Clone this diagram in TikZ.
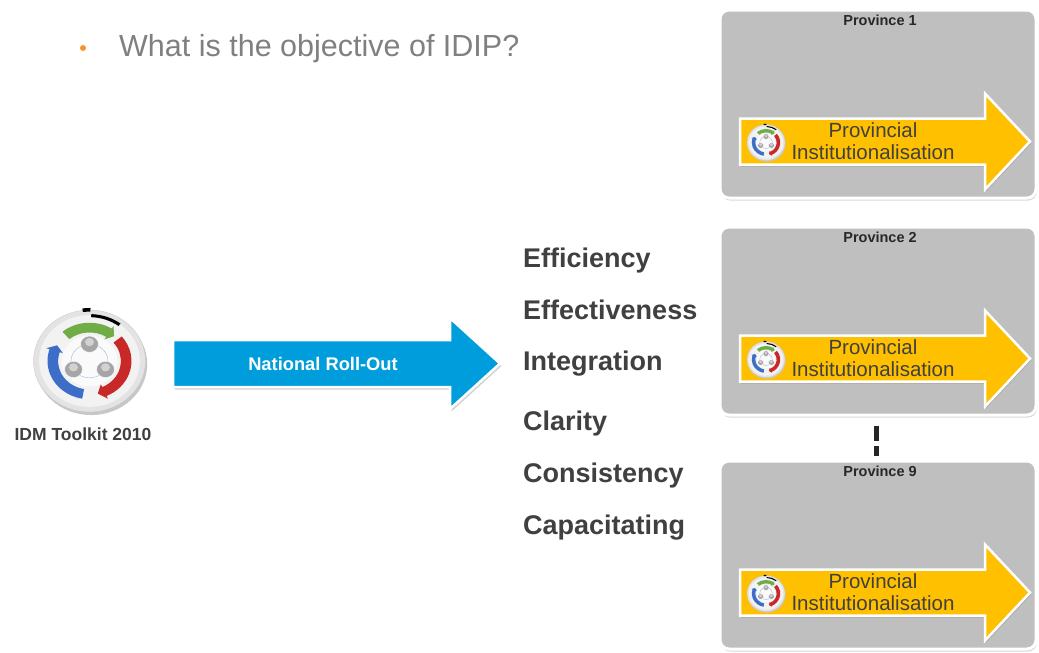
\documentclass[tikz,border=0pt]{standalone}
\usepackage{fontspec}
\setmainfont{Liberation Sans}
\usetikzlibrary{shadows}
\definecolor{boxgray}{RGB}{191,191,191}
\definecolor{ayellow}{RGB}{255,192,0}
\definecolor{ablue}{RGB}{0,157,220}
\definecolor{wordgray}{RGB}{64,64,64}
\definecolor{titlegray}{RGB}{128,128,128}
\definecolor{bulletorange}{RGB}{247,150,40}
\definecolor{provtxt}{RGB}{40,40,40}
\definecolor{igreen}{RGB}{112,173,71}
\definecolor{ired}{RGB}{200,40,40}
\definecolor{iblue}{RGB}{60,110,200}
\newcommand\idmarc[4]{%
  \fill[#1] (#2:0.75) arc[start angle=#2, end angle=#3, radius=0.75]
    -- (#3:0.81) -- (#4:0.655) -- (#3:0.50) -- (#3:0.56)
    arc[start angle=#3, end angle=#2, radius=0.56] -- cycle;}
\tikzset{
  idm/.pic={
    \begin{scope}[yscale=-1]
      \fill[black!22] (0.03,-0.06) circle (1.0);
      \fill[gray!22] (0,0) circle (1);
      \draw[gray!45, line width=0.3pt] (0,0) circle (1);
      \fill[gray!10] (0,0) circle (0.9);
      \fill[gray!4] (0,0) circle (0.5);
      \idmarc{igreen}{130}{58}{48}
      \idmarc{ired}{40}{-66}{-77}
      \idmarc{iblue}{-100}{-198}{-208}
      \draw[iblue!50, line width=0.4pt] (0,0) circle (0.33);
      \foreach \a in {90,210,330}{
        \fill[gray!70] (\a:0.33) circle (0.16);
        \fill[gray!35] ([shift={(0,0.04)}]\a:0.33) circle (0.08);
        \draw[white, line width=0.4pt] (\a:0.33) circle (0.16);}
      \fill[black] (88:0.86) arc[start angle=88, end angle=53, radius=0.86]
        -- (53:0.92) arc[start angle=53, end angle=88, radius=0.92] -- cycle;
      \fill[black] (97:0.97) -- (97:1.04) -- (89:1.04) -- (89:0.97) -- cycle;
    \end{scope}
  },
  provarrow/.pic={
    \path[fill=ayellow, draw=white, line width=2.5pt, line join=miter,
          drop shadow={opacity=0.35, shadow xshift=1pt, shadow yshift=-2pt}]
      (-133,-23) -- (112,-23) -- (112,-48) -- (157,0) -- (112,48)
      -- (112,23) -- (-133,23) -- cycle;
    \pic[xscale=19, yscale=18] at (-107,1) {idm};
    \node[ptext, anchor=base] (-l1) at (0,-4.5) {Provincial};
    \node[ptext, anchor=base] (-l2) at (0,17.5) {Institutionalisation};
  },
  ptext/.style={inner sep=0pt, text=wordgray, font=\fontsize{20.5}{22}\selectfont},
  provbox/.style={rectangle, rounded corners=9pt, fill=boxgray, draw=white,
    line width=3pt, minimum width=316pt, minimum height=188pt,
    drop shadow={opacity=0.3, shadow xshift=1pt, shadow yshift=-2.5pt}},
  provlabel/.style={inner sep=0pt, text=provtxt, font=\bfseries\fontsize{14.5}{16}\selectfont},
  word/.style={inner sep=0pt, anchor=base west, text=wordgray, font=\bfseries\fontsize{27}{30}\selectfont},
}
\begin{document}
\begin{tikzpicture}[x=1pt, y=-1pt]
\useasboundingbox (0,0) rectangle (1039,653);
\fill[white] (0,0) rectangle (1039,653);
% title
\fill[bulletorange] (83,48) circle (3);
\node[inner sep=0pt, anchor=base west, text=titlegray, font=\fontsize{30.5}{34}\selectfont] (title) at (119,56) {What is the objective of IDIP?};
% toolkit
\pic[xscale=56, yscale=51] at (89.5,361) {idm};
\node[inner sep=0pt, anchor=base, text=wordgray, font=\bfseries\fontsize{17.5}{20}\selectfont] (tk) at (83,440) {IDM Toolkit 2010};
% blue arrow
\path[fill=ablue, draw=white, line width=2.5pt, line join=miter,
      drop shadow={opacity=0.35, shadow xshift=1.5pt, shadow yshift=-2.5pt}]
  (173,340) -- (450,340) -- (450,318) -- (500,363.5) -- (450,409) -- (450,387) -- (173,387) -- cycle;
\node[inner sep=0pt, anchor=base, text=white, font=\bfseries\fontsize{18.3}{20}\selectfont] (nr) at (323,370) {National Roll-Out};
% words
\node[word] (w1) at (523,267) {Efficiency};
\node[word] (w2) at (523,319) {Effectiveness};
\node[word] (w3) at (523,370) {Integration};
\node[word] (w4) at (523,430) {Clarity};
\node[word] (w5) at (523,482) {Consistency};
\node[word] (w6) at (523,534) {Capacitating};
% province boxes
\node[provbox] (p1) at (878,104) {};
\node[provbox] (p2) at (878,321) {};
\node[provbox] (p3) at (878,555) {};
\node[provlabel, anchor=base] (pl1) at ([xshift=2pt, yshift=-16.5pt]p1.north) {Province 1};
\node[provlabel, anchor=base] (pl2) at ([xshift=2pt, yshift=-16.5pt]p2.north) {Province 2};
\node[provlabel, anchor=base] (pl3) at ([xshift=2pt, yshift=-16.5pt]p3.north) {Province 9};
\pic (a1) at (873,141.5) {provarrow};
\pic (a2) at (873,358.5) {provarrow};
\pic (a3) at (873,592.5) {provarrow};
% dashed connector
\draw[black!85, line width=5pt, dash pattern=on 15pt off 5pt, shorten <=9pt, shorten >=4pt]
  ([xshift=-2pt]p2.south) -- ([xshift=-2pt]p3.north);
\end{tikzpicture}
\end{document}
